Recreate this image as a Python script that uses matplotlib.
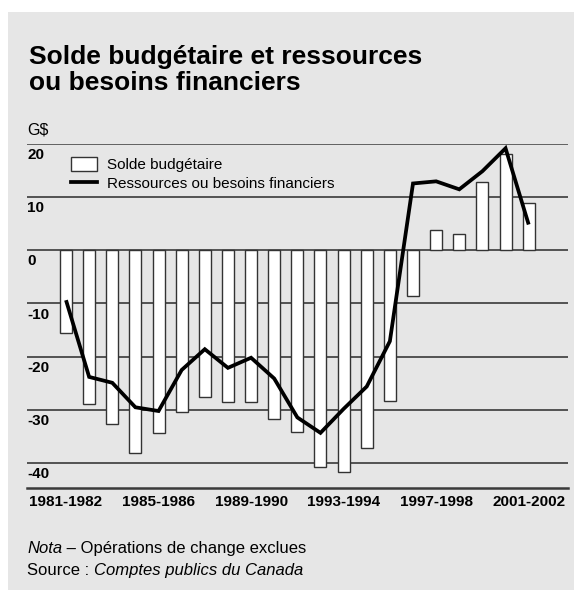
import numpy as np
import matplotlib
matplotlib.use('Agg')
import matplotlib.pyplot as plt
from matplotlib.patches import Rectangle, Patch
from matplotlib.lines import Line2D
import matplotlib.transforms as mtransforms

plt.rcParams['font.family'] = ['Liberation Sans', 'DejaVu Sans']

# fiscal years 1981-1982 .. 2001-2002
years = ['%d-%d' % (y, y + 1) for y in range(1981, 2002)]
# budgetary balance (G$)
solde = [-15.5, -28.8, -32.6, -38.1, -34.3, -30.4, -27.6, -28.6, -28.6, -31.7,
         -34.1, -40.7, -41.7, -37.2, -28.3, -8.7, 3.8, 3.1, 12.7, 18.1, 8.9]
# financial source / requirement (G$)
ressources = [-9.4, -23.8, -24.9, -29.5, -30.2, -22.5, -18.6, -22.1, -20.2, -24.1,
              -31.4, -34.3, -29.8, -25.6, -17.1, 12.5, 12.9, 11.4, 14.8, 19.1, 4.8]
yticks = [20, 10, 0, -10, -20, -30, -40]
xlabel_idx = [0, 4, 8, 12, 16, 20]

fig = plt.figure(figsize=(5.74, 5.90), dpi=100)
fig.patch.set_facecolor('white')
bg = Rectangle((8 / 574, 0), 1, 1 - 12 / 590, transform=fig.transFigure,
               facecolor='#e6e6e6', edgecolor='none', zorder=-10)
fig.patches.append(bg)

ax = fig.add_axes([27 / 574, 1 - 488.3 / 590, 541 / 574, (488.3 - 143.5) / 590])
ax.set_facecolor('none')
x = np.arange(len(years))

gridc = '#3a3a3a'
for v in yticks:
    ax.axhline(v, color=gridc, lw=1.8 if v == 20 else 1.2, zorder=1)
ax.axhline(-44.7, color=gridc, lw=1.8, zorder=1, clip_on=False)

ax.bar(x, solde, width=0.52, color='white', edgecolor='#333333', linewidth=1.0, zorder=2)
ax.plot(x, ressources, color='black', lw=2.7, zorder=3,
        solid_joinstyle='miter', solid_capstyle='butt')

ax.set_xlim(-1.686, 21.7)
ax.set_ylim(-44.7, 20)
for s in ax.spines.values():
    s.set_visible(False)
ax.set_yticks([])
ax.set_xticks(x[xlabel_idx])
ax.set_xticklabels([years[i] for i in xlabel_idx], fontsize=11, fontweight='bold')
ax.tick_params(axis='x', length=0, pad=5)

trans = mtransforms.blended_transform_factory(ax.transAxes, ax.transData)
for v in yticks:
    ax.annotate(str(v), xy=(0, v), xycoords=trans, xytext=(0, -3),
                textcoords='offset points', ha='left', va='top',
                fontsize=11, fontweight='bold')
ax.annotate('G$', xy=(0, 20), xycoords=trans, xytext=(0, 4),
            textcoords='offset points', ha='left', va='bottom', fontsize=11.5)

handles = [Patch(facecolor='white', edgecolor='#333333', linewidth=1.0),
           Line2D([], [], color='black', lw=2.7)]
ax.legend(handles, ['Solde budgétaire', 'Ressources ou besoins financiers'],
          loc='upper left', bbox_to_anchor=(0.068, 0.983), frameon=False,
          fontsize=11, handlelength=1.7, handleheight=1.0, borderpad=0,
          handletextpad=0.6, labelspacing=0.25)

fig.text(29 / 574, 1 - 90 / 590, 'Solde budgétaire et ressources\nou besoins financiers',
         fontsize=19, fontweight='bold', ha='left', va='baseline', linespacing=1.1)

t1 = fig.text(27 / 574, 1 - 553 / 590, 'Nota', fontsize=12, style='italic',
              ha='left', va='baseline')
ax.annotate(' – Opérations de change exclues', xy=(1, 0), xycoords=t1,
            fontsize=12, ha='left', va='bottom')
t2 = fig.text(27 / 574, 1 - 575 / 590, 'Source : ', fontsize=12,
              ha='left', va='baseline')
ax.annotate('Comptes publics du Canada', xy=(1, 0), xycoords=t2,
            fontsize=12, style='italic', ha='left', va='bottom')

fig.savefig('out.png', dpi=100)
